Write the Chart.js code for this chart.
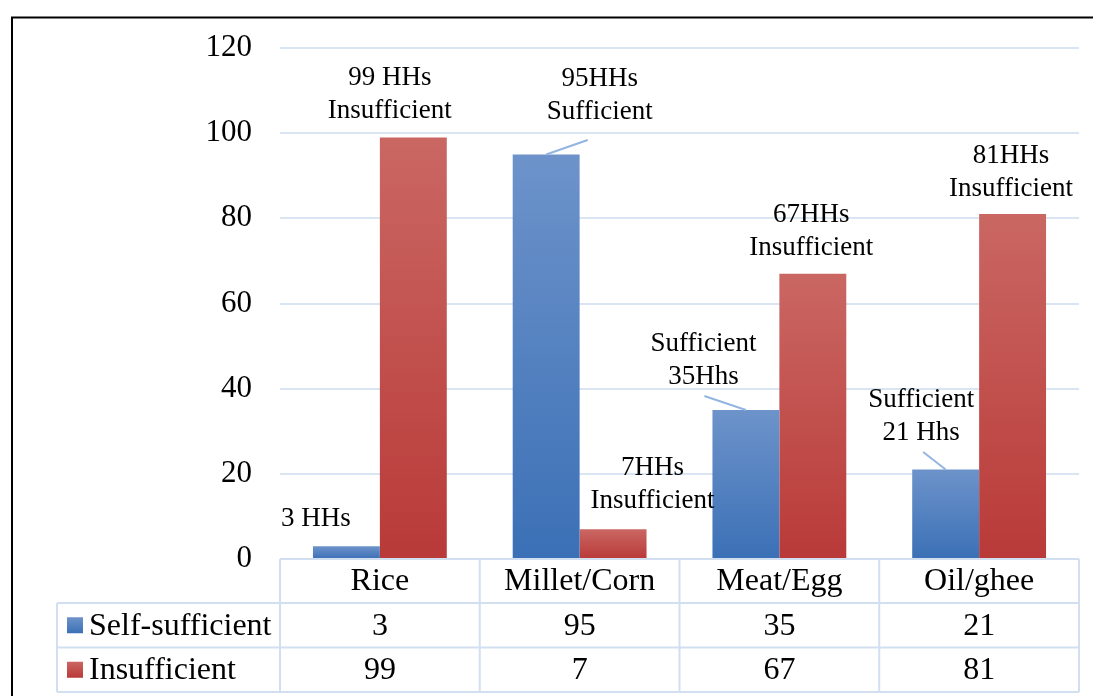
<!DOCTYPE html>
<html>
<head>
<meta charset="utf-8">
<script src="https://cdn.jsdelivr.net/npm/chart.js@4"></script>
<style>
  html, body { margin: 0; padding: 0; background: #fff; }
  #wrap { width: 1093px; height: 696px; }
</style>
</head>
<body>
<div id="wrap"><canvas id="c" width="1093" height="696"></canvas></div>
<script>
// ---- data ----
const categories = ['Rice', 'Millet/Corn', 'Meat/Egg', 'Oil/ghee'];
const seriesNames = ['Self-sufficient', 'Insufficient'];
const selfSufficient = [3, 95, 35, 21];
const insufficient = [99, 7, 67, 81];
const yTicks = [0, 20, 40, 60, 80, 100, 120];

// callout wording per bar; {v} is filled with the bar's own value
const selfCallouts = [['{v} HHs'], ['{v}HHs', 'Sufficient'], ['Sufficient', '{v}Hhs'], ['Sufficient', '{v} Hhs']];
const insCallouts = [['{v} HHs', 'Insufficient'], ['{v}HHs', 'Insufficient'], ['{v}HHs', 'Insufficient'], ['{v}HHs', 'Insufficient']];

// ---- styling / placement (pixels, relative to the top-centre of each bar) ----
const calloutPlacement = [
  [ {dx: -30.5, dy: -27}, {dx: 53.5, dy: -59, leader: [41.5, -14.5]}, {dx: -42.5, dy: -49.5, leader: [-41.5, -14]}, {dx: -24.5, dy: -53, leader: [-22.5, -17.5]} ],
  [ {dx: -23.5, dy: -43.5}, {dx: 39.5, dy: -45}, {dx: -1.5, dy: -42.5}, {dx: -1.5, dy: -41.5} ]
];
const FONT = '"Liberation Serif", "Times New Roman", serif';
const BLUE = ['#6d93ca', '#3b70b6'];
const RED = ['#ca6763', '#b93a38'];
const GRID = '#dae5f3';
const TABLE_LINE = '#d2dff1';
const LEADER = '#93b5e0';

function barFill(stops) {
  return (ctx) => {
    const chart = ctx.chart;
    if (!chart.chartArea || ctx.raw === undefined) return stops[1];
    const y = chart.scales.y;
    const top = y.getPixelForValue(ctx.raw);
    const base = y.getPixelForValue(0);
    if (!(base > top)) return stops[1];
    const g = chart.ctx.createLinearGradient(0, top, 0, base);
    g.addColorStop(0, stops[0]);
    g.addColorStop(1, stops[1]);
    return g;
  };
}

const calloutPlugin = {
  id: 'callouts',
  afterDatasetsDraw(chart) {
    const ctx = chart.ctx;
    const groups = [selfCallouts, insCallouts];
    ctx.save();
    ctx.font = '27px ' + FONT;
    ctx.fillStyle = '#000';
    ctx.textAlign = 'center';
    ctx.textBaseline = 'middle';
    chart.data.datasets.forEach((ds, di) => {
      const meta = chart.getDatasetMeta(di);
      meta.data.forEach((bar, i) => {
        const place = calloutPlacement[di][i];
        const lines = groups[di][i].map(t => t.replace('{v}', ds.data[i]));
        const cx = bar.x + place.dx;
        const cy = bar.y + place.dy;
        const lh = 33;
        const startY = cy - (lines.length - 1) * lh / 2;
        lines.forEach((t, k) => ctx.fillText(t, cx, startY + k * lh));
        if (place.leader) {
          ctx.strokeStyle = LEADER;
          ctx.lineWidth = 2;
          ctx.beginPath();
          ctx.moveTo(bar.x, bar.y);
          ctx.lineTo(bar.x + place.leader[0], bar.y + place.leader[1]);
          ctx.stroke();
        }
      });
    });
    ctx.restore();
  }
};

const tablePlugin = {
  id: 'dataTable',
  afterDraw(chart) {
    const ctx = chart.ctx;
    const x = chart.scales.x;
    const area = chart.chartArea;
    const step = (area.right - area.left) / categories.length;
    const top = area.bottom;
    const rowH = [44, 44.5, 44.5];
    const rowY = [top, top + rowH[0], top + rowH[0] + rowH[1], top + rowH[0] + rowH[1] + rowH[2]];
    const tableLeft = 57;
    ctx.save();
    ctx.strokeStyle = TABLE_LINE;
    ctx.lineWidth = 2;
    // horizontal rules
    ctx.beginPath();
    ctx.moveTo(area.left, rowY[0]); ctx.lineTo(area.right, rowY[0]);
    for (let r = 1; r < 4; r++) { ctx.moveTo(tableLeft, rowY[r]); ctx.lineTo(area.right, rowY[r]); }
    // vertical rules
    ctx.moveTo(tableLeft, rowY[1]); ctx.lineTo(tableLeft, rowY[3]);
    for (let c = 0; c <= categories.length; c++) {
      const px = area.left + c * step;
      ctx.moveTo(px, rowY[0]); ctx.lineTo(px, rowY[3]);
    }
    ctx.stroke();

    ctx.fillStyle = '#000';
    ctx.font = '32px ' + FONT;
    ctx.textBaseline = 'middle';
    ctx.textAlign = 'center';
    const series = [selfSufficient, insufficient];
    categories.forEach((cat, i) => {
      const px = x.getPixelForValue(i);
      ctx.fillText(cat, px, (rowY[0] + rowY[1]) / 2 + 1);
      series.forEach((vals, s) => ctx.fillText(String(vals[i]), px, (rowY[s + 1] + rowY[s + 2]) / 2 + 1));
    });
    // series keys
    const keys = [BLUE, RED];
    seriesNames.forEach((name, s) => {
      const my = (rowY[s + 1] + rowY[s + 2]) / 2;
      const g = ctx.createLinearGradient(0, my - 8, 0, my + 8);
      g.addColorStop(0, keys[s][0]);
      g.addColorStop(1, keys[s][1]);
      ctx.fillStyle = g;
      ctx.fillRect(67, my - 8, 16, 16);
      ctx.fillStyle = '#000';
      ctx.textAlign = 'left';
      ctx.fillText(name, 89, my + 1);
    });
    // outer frame
    ctx.strokeStyle = '#000';
    ctx.lineWidth = 2;
    ctx.beginPath();
    ctx.moveTo(12, chart.height); ctx.lineTo(12, 17.5); ctx.lineTo(chart.width, 17.5);
    ctx.stroke();
    ctx.restore();
  }
};

new Chart(document.getElementById('c'), {
  type: 'bar',
  data: {
    labels: categories,
    datasets: [
      { label: seriesNames[0], data: selfSufficient, backgroundColor: barFill(BLUE), categoryPercentage: 0.67, barPercentage: 1.0 },
      { label: seriesNames[1], data: insufficient, backgroundColor: barFill(RED), categoryPercentage: 0.67, barPercentage: 1.0 }
    ]
  },
  options: {
    responsive: false,
    animation: false,
    layout: { padding: { left: 0, top: 48, right: 14, bottom: 137 } },
    plugins: { legend: { display: false }, tooltip: { enabled: false } },
    scales: {
      x: { display: false },
      y: {
        min: yTicks[0],
        max: yTicks[yTicks.length - 1],
        afterFit(scale) { scale.width = 280; },
        afterBuildTicks(scale) { scale.ticks = yTicks.map(v => ({ value: v })); },
        border: { display: false },
        grid: { color: GRID, lineWidth: 2, drawTicks: false },
        ticks: { padding: 28, color: '#000', font: { family: FONT, size: 31 } }
      }
    }
  },
  plugins: [calloutPlugin, tablePlugin]
});
</script>
</body>
</html>
